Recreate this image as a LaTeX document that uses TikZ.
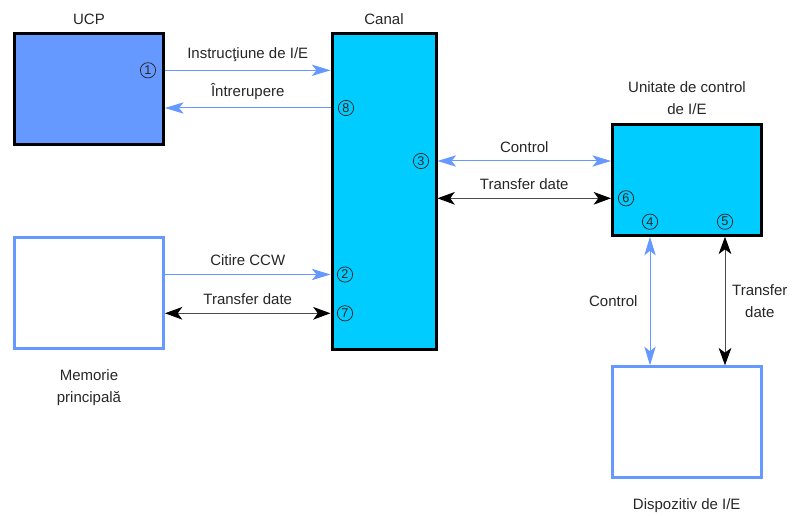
\documentclass[tikz,border=0pt]{standalone}
\usepackage{fontspec}
\setmainfont{Liberation Sans}
\usepackage{tikz}
\usetikzlibrary{positioning,arrows.meta}

\definecolor{ctlblue}{HTML}{6699FF}
\definecolor{chancyan}{HTML}{00CCFF}

\begin{document}
\begin{tikzpicture}[x=0.75pt, y=-0.75pt, font=\fontsize{11.25}{16.5}\selectfont,
    unit/.style={draw, line width=2.25pt, minimum width=111.75pt, minimum height=83.25pt},
    dev/.style={unit, draw=ctlblue, fill=white},
    lbl/.style={inner sep=0pt, align=center, text=black!85},
    num/.style={circle, draw=black!85, line width=0.55pt, inner sep=0pt, minimum size=11.5pt, text=black!85, font=\fontsize{9.5}{9.5}\selectfont},
    ctl/.style={draw=ctlblue, line width=0.75pt, arrows={-Stealth[length=14pt, width=8.5pt, inset=3.5pt]}},
    dat/.style={draw=black!70, line width=0.75pt, arrows={Stealth[length=13pt, width=9.5pt, inset=3.5pt, color=black]-Stealth[length=13pt, width=9.5pt, inset=3.5pt, color=black]}}]
    \useasboundingbox (0,0) rectangle (793,516);

    \node [unit, fill=ctlblue] (ucp) at (89,89) {};
    \node [unit, fill=chancyan, minimum width=78pt, minimum height=237pt] (canal) at (384,191.5) {};
    \node [dev] (mem) at (89,293.5) {};
    \node [unit, fill=chancyan] (uc) at (687,179.7) {};
    \node [dev] (disp) at (686.7,422.3) {};

    \node [lbl, above=5.6pt of ucp] {UCP};
    \node [lbl, above=5.6pt of canal] {Canal};
    \node [lbl, above=5.6pt of uc] {Unitate de control\\de I/E};
    \node [lbl, below=14pt of mem] {Memorie\\principală};
    \node [lbl, below=14pt of disp] {Dispozitiv de I/E};

    \node [num] (n1) at (148,70.3) {1};
    \node [num] (n8) at (346,108) {8};
    \node [num] (n3) at (421,161) {3};
    \node [num] (n2) at (345,274.5) {2};
    \node [num] (n7) at (345,313.3) {7};
    \node [num] (n6) at (626,198.3) {6};
    \node [num] (n4) at (650,221.7) {4};
    \node [num] (n5) at (725,221.7) {5};

    \draw [ctl] (ucp.east |- n1) -- node [lbl, midway, above=6pt] {Instrucţiune de I/E} (canal.west |- n1);
    \draw [ctl] (canal.west |- n8) -- node [lbl, midway, above=6pt] {Întrerupere} (ucp.east |- n8);
    \draw [ctl] (mem.east |- n2) -- node [lbl, midway, above=6pt] {Citire CCW} (canal.west |- n2);
    \draw [dat] (mem.east |- n7) -- node [lbl, midway, above=6pt] {Transfer date} (canal.west |- n7);
    \draw [ctl, arrows={Stealth[length=14pt, width=8.5pt, inset=3.5pt]-Stealth[length=14pt, width=8.5pt, inset=3.5pt]}]
        (canal.east |- n3) -- node [lbl, midway, above=6pt] {Control} (uc.west |- n3);
    \draw [dat] (canal.east |- n6) -- node [lbl, midway, above=6pt] {Transfer date} (uc.west |- n6);
    \draw [ctl, arrows={Stealth[length=14pt, width=8.5pt, inset=3.5pt]-Stealth[length=14pt, width=8.5pt, inset=3.5pt]}]
        (uc.south -| n4) -- node [lbl, midway, left=9pt] {Control} (disp.north -| n4);
    \draw [dat] (uc.south -| n5) -- node [lbl, midway, right=5pt] {Transfer\\date} (disp.north -| n5);
\end{tikzpicture}
\end{document}
